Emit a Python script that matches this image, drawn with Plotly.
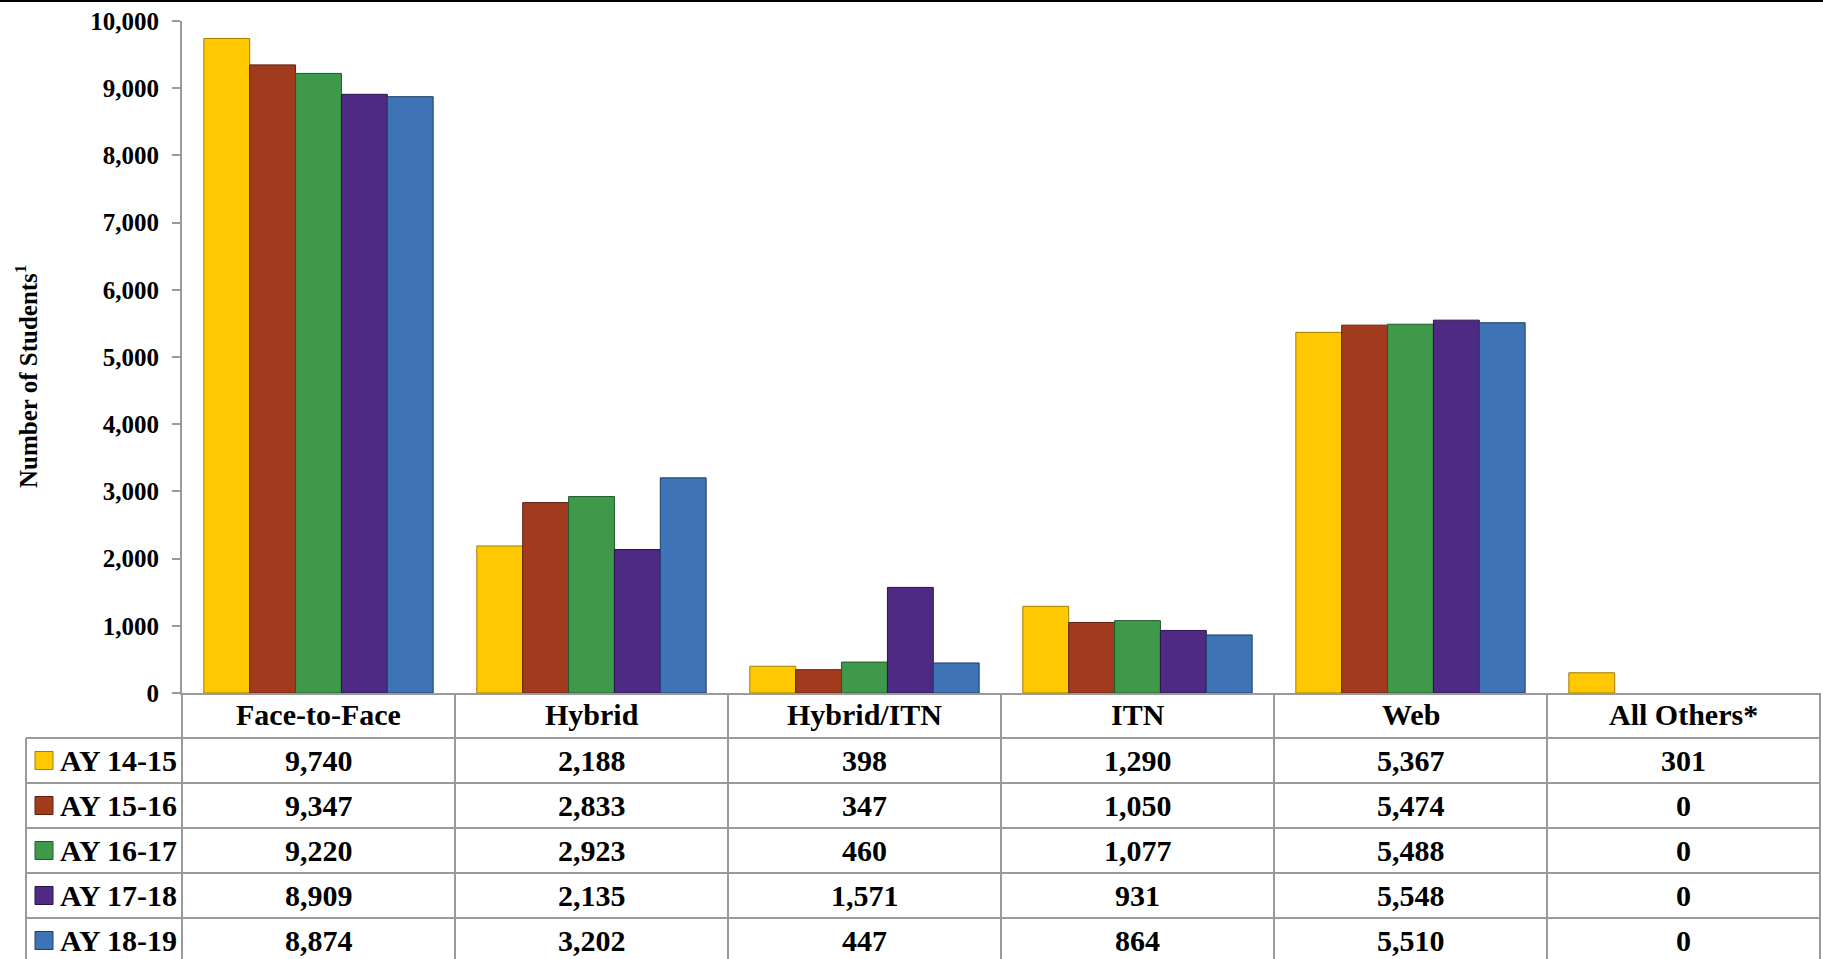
import plotly.graph_objects as go

categories = ["Face-to-Face", "Hybrid", "Hybrid/ITN", "ITN", "Web", "All Others*"]
years = ["AY 14-15", "AY 15-16", "AY 16-17", "AY 17-18", "AY 18-19"]
ay_14_15 = [9740, 2188, 398, 1290, 5367, 301]
ay_15_16 = [9347, 2833, 347, 1050, 5474, 0]
ay_16_17 = [9220, 2923, 460, 1077, 5488, 0]
ay_17_18 = [8909, 2135, 1571, 931, 5548, 0]
ay_18_19 = [8874, 3202, 447, 864, 5510, 0]
series = [ay_14_15, ay_15_16, ay_16_17, ay_17_18, ay_18_19]
colors = ["#FFC800", "#A23A1E", "#3E9A4A", "#4F2A85", "#3E73B5"]
edge_colors = ["#A07E00", "#5E1F0E", "#1F5A28", "#2A144D", "#1E3F6A"]
y_ticks = [0, 1000, 2000, 3000, 4000, 5000, 6000, 7000, 8000, 9000, 10000]

W, H = 1823, 959
L, T = 182, 21
PW, PH = 1638, 672
FONT = "Liberation Serif"


def px_x(px):
    return (px - L) / PW


def px_y(py):
    return (T + PH - py) / PH


fig = go.Figure()
for name, vals, c, ec in zip(years, series, colors, edge_colors):
    fig.add_trace(go.Bar(
        x=categories, y=vals, name=name,
        marker=dict(color=c, line=dict(color=ec, width=[1 if v > 0 else 0 for v in vals])),
        showlegend=False,
    ))

shapes = []
annotations = []
grid = "#9A9A9A"
col_w = PW / len(categories)
header_top, header_bot = 693, 738
row_h = 45
row_tops = [header_bot + i * row_h for i in range(len(years))]
bottom = H + 10
TS = 30

# vertical lines
for k in range(len(categories) + 1):
    xp = L + k * col_w
    shapes.append(dict(type="line", xref="paper", yref="paper",
                       x0=px_x(xp), x1=px_x(xp), y0=px_y(header_top), y1=px_y(bottom),
                       line=dict(color=grid, width=2)))
# left border of label column
shapes.append(dict(type="line", xref="paper", yref="paper",
                   x0=px_x(26), x1=px_x(26), y0=px_y(header_bot), y1=px_y(bottom),
                   line=dict(color=grid, width=2)))
# horizontal lines
for rt in row_tops:
    shapes.append(dict(type="line", xref="paper", yref="paper",
                       x0=px_x(26), x1=px_x(L + PW), y0=px_y(rt), y1=px_y(rt),
                       line=dict(color=grid, width=2)))
# top black line
shapes.append(dict(type="line", xref="paper", yref="paper",
                   x0=px_x(0), x1=px_x(W), y0=px_y(1), y1=px_y(1),
                   line=dict(color="#000000", width=2)))

# header labels
for cat in categories:
    annotations.append(dict(x=cat, xref="x", y=px_y((header_top + header_bot) / 2 - 1), yref="paper",
                            text="<b>%s</b>" % cat, showarrow=False,
                            font=dict(family=FONT, size=TS, color="#000"),
                            xanchor="center", yanchor="middle"))

# rows
for i, (name, vals, c, ec) in enumerate(zip(years, series, colors, edge_colors)):
    cy = row_tops[i] + row_h / 2
    shapes.append(dict(type="rect", xref="paper", yref="paper",
                       x0=px_x(35), x1=px_x(53), y0=px_y(cy - 9), y1=px_y(cy + 9),
                       fillcolor=c, line=dict(color=ec, width=1)))
    annotations.append(dict(x=px_x(58), xref="paper", y=px_y(cy), yref="paper",
                            text="<b>%s</b>" % name, showarrow=False,
                            font=dict(family=FONT, size=TS, color="#000"),
                            xanchor="left", yanchor="middle"))
    for cat, v in zip(categories, vals):
        annotations.append(dict(x=cat, xref="x", y=px_y(cy), yref="paper",
                                text="<b>{:,}</b>".format(v), showarrow=False,
                                font=dict(family=FONT, size=TS, color="#000"),
                                xanchor="center", yanchor="middle"))

# y axis title
annotations.append(dict(x=px_x(26), xref="paper", y=px_y(376), yref="paper",
                        text="<b>Number of Students<sup>1</sup></b>", textangle=-90,
                        showarrow=False, font=dict(family=FONT, size=25, color="#000"),
                        xanchor="center", yanchor="middle"))

fig.update_layout(
    width=W, height=H,
    margin=dict(l=L, r=W - L - PW, t=T, b=H - T - PH, pad=0),
    paper_bgcolor="white", plot_bgcolor="white",
    barmode="group", bargap=0.16, bargroupgap=0,
    shapes=shapes, annotations=annotations,
    xaxis=dict(showticklabels=False, showgrid=False, zeroline=False,
               showline=True, linecolor=grid, linewidth=2, ticks=""),
    yaxis=dict(range=[0, 10000], tickvals=y_ticks, ticktext=["{:,}".format(v) for v in y_ticks],
               showgrid=False, zeroline=False, showline=True, linecolor=grid, linewidth=2,
               ticks="outside", ticklen=8, tickcolor=grid, tickwidth=2,
               ticklabelstandoff=8,
               tickfont=dict(family=FONT, size=25, color="#000", weight="bold")),
)

fig.write_html("out.html", config={"displayModeBar": False},
               post_script="document.body.style.margin='0';document.body.style.overflow='hidden';")
